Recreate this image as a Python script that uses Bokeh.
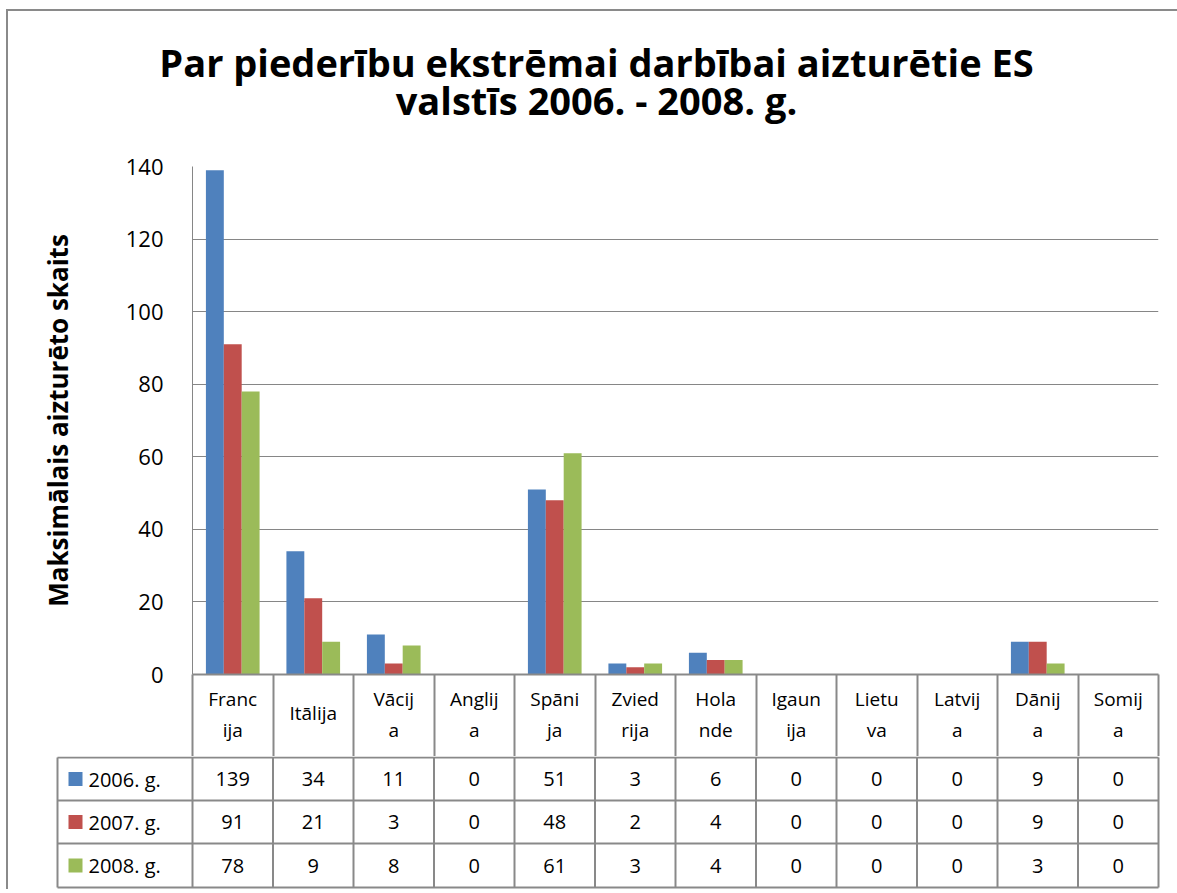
from bokeh.plotting import figure
from bokeh.models import Range1d, FixedTicker, ColumnDataSource, LinearAxis
from bokeh.layouts import column
from bokeh.embed import file_html
from bokeh.resources import INLINE
from bokeh.core.properties import value

# ---------------- data ----------------
categories = ["Francija", "Itālija", "Vācija", "Anglija", "Spānija", "Zviedrija",
              "Holande", "Igaunija", "Lietuva", "Latvija", "Dānija", "Somija"]
header_labels = ["Franc\nija", "Itālija", "Vācij\na", "Anglij\na", "Spāni\nja", "Zvied\nrija",
                 "Hola\nnde", "Igaun\nija", "Lietu\nva", "Latvij\na", "Dānij\na", "Somij\na"]
series_names = ["2006. g.", "2007. g.", "2008. g."]
v2006 = [139, 34, 11, 0, 51, 3, 6, 0, 0, 0, 9, 0]
v2007 = [91, 21, 3, 0, 48, 2, 4, 0, 0, 0, 9, 0]
v2008 = [78, 9, 8, 0, 61, 3, 4, 0, 0, 0, 3, 0]
y_ticks = [0, 20, 40, 60, 80, 100, 120, 140]
title_lines = ["Par piederību ekstrēmai darbībai aizturētie ES", "valstīs 2006. - 2008. g."]
y_label = "Maksimālais aizturēto skaits"

# ---------------- style ----------------
colors = ["#4F81BD", "#C0504D", "#9BBB59"]
FONT = "Open Sans"
GRID = "#868686"
TLINE = "#898989"
W = 1169
N = len(categories)
series = [v2006, v2007, v2008]
ML, MR, MT, HEAD = 184, 19, 25, 82
TITLE_H = 130

# ---------------- title band ----------------
tf = figure(width=W, height=TITLE_H, x_range=Range1d(0, W), y_range=Range1d(TITLE_H, 0),
            output_backend="svg", toolbar_location=None,
            min_border_left=0, min_border_right=0, min_border_top=0, min_border_bottom=0,
            x_axis_location=None, y_axis_location=None)
tf.outline_line_color = None
tf.xgrid.visible = False
tf.ygrid.visible = False
tf.text(x=[588, 588], y=[50, 88], text=title_lines, text_font=value(FONT),
        text_font_size="38px", text_font_style="bold", text_color="black",
        text_align="center", text_baseline="middle")

# ---------------- chart (with header row as category axis) ----------------
p = figure(width=W, height=MT + 508 + HEAD, x_range=Range1d(0, N), y_range=Range1d(0, 140),
           output_backend="svg", toolbar_location=None,
           min_border_left=ML, min_border_right=MR, min_border_top=MT, min_border_bottom=HEAD)
p.outline_line_color = None

bw = 1.0 / 4.5
for k, vals in enumerate(series):
    src = ColumnDataSource(dict(x=[i + 0.5 + (k - 1) * bw for i in range(N)], top=vals))
    p.vbar(x="x", top="top", width=bw, source=src, fill_color=colors[k], line_color=None)

p.yaxis.ticker = FixedTicker(ticks=y_ticks)
p.yaxis.major_tick_in = 0
p.yaxis.major_tick_out = 0
p.yaxis.minor_tick_line_color = None
p.yaxis.axis_line_color = GRID
p.yaxis.axis_line_width = 1
p.yaxis.major_label_standoff = 29
p.yaxis.major_label_text_font = FONT
p.yaxis.major_label_text_font_size = "22px"
p.yaxis.major_label_text_color = "black"
p.yaxis.axis_label = y_label
p.yaxis.axis_label_text_font = FONT
p.yaxis.axis_label_text_font_size = "26px"
p.yaxis.axis_label_text_font_style = "bold"
p.yaxis.axis_label_text_color = "black"
p.yaxis.axis_label_standoff = 47

centers = [i + 0.5 for i in range(N)]
two_line = [c for c, lab in zip(centers, header_labels) if "\n" in lab]
one_line = [c for c, lab in zip(centers, header_labels) if "\n" not in lab]
p.xaxis.ticker = FixedTicker(ticks=two_line, minor_ticks=list(range(N + 1)))
p.xaxis.major_label_overrides = {c: lab for c, lab in zip(centers, header_labels) if c in two_line}
p.xaxis.major_label_text_font = FONT
p.xaxis.major_label_text_font_size = "19px"
p.xaxis.major_label_text_color = "black"
p.xaxis.major_label_text_line_height = 1.2
p.xaxis.major_label_standoff = -71
p.xaxis.major_tick_in = 0
p.xaxis.major_tick_out = 0
p.xaxis.major_tick_line_color = None
p.xaxis.minor_tick_in = 0
p.xaxis.minor_tick_out = HEAD
p.xaxis.minor_tick_line_color = TLINE
p.xaxis.minor_tick_line_width = 2
p.xaxis.axis_line_color = TLINE
p.xaxis.axis_line_width = 2

ax2 = LinearAxis(ticker=FixedTicker(ticks=one_line, minor_ticks=[]),
                 major_label_overrides={c: lab for c, lab in zip(centers, header_labels) if c in one_line},
                 major_label_text_font=FONT, major_label_text_font_size="19px",
                 major_label_text_color="black", major_label_standoff=-46,
                 major_tick_in=0, major_tick_out=0, major_tick_line_color=None,
                 minor_tick_line_color=None, axis_line_color=None)
p.add_layout(ax2, "below")

p.ygrid.ticker = FixedTicker(ticks=y_ticks)
p.ygrid.grid_line_color = GRID
p.ygrid.grid_line_width = 1
p.xgrid.visible = False

# ---------------- data table rows ----------------
unit = (W - ML - MR) / N          # px per category
bl, br = 40, 17
fw = W - bl - br
x0 = -(ML - bl) / unit
TH = 133
t = figure(width=W, height=TH, x_range=Range1d(x0, x0 + fw / unit), y_range=Range1d(TH, 0),
           output_backend="svg", toolbar_location=None,
           min_border_left=bl, min_border_right=br, min_border_top=0, min_border_bottom=0,
           x_axis_location=None, y_axis_location=None)
t.outline_line_color = None
t.xgrid.visible = False
t.ygrid.visible = False

legend_left = -(ML - 49) / unit
row_edges = [1, 44, 87, 131]

vx = list(range(N + 1))
t.segment(x0=vx, y0=[row_edges[0]] * len(vx), x1=vx, y1=[row_edges[-1]] * len(vx),
          line_color=TLINE, line_width=2)
t.segment(x0=[legend_left], y0=[row_edges[0]], x1=[legend_left], y1=[row_edges[-1]],
          line_color=TLINE, line_width=2)
t.segment(x0=[legend_left] * len(row_edges), y0=row_edges, x1=[N] * len(row_edges), y1=row_edges,
          line_color=TLINE, line_width=2)

for k, vals in enumerate(series):
    yc = (row_edges[k] + row_edges[k + 1]) / 2
    t.text(x=centers, y=[yc] * N, text=[str(v) for v in vals],
           text_font=value(FONT), text_font_size="20px", text_align="center",
           text_baseline="middle", text_color="black")
    t.scatter(x=[-(ML - 67) / unit], y=[yc], marker="square", size=14,
              fill_color=colors[k], line_color=None)
    t.text(x=[-(ML - 80) / unit], y=[yc], text=[series_names[k]],
           text_font=value(FONT), text_font_size="20px", text_align="left",
           text_baseline="middle", text_color="black")

layout = column(column(tf), p, column(t), spacing=0,
                styles={"margin-left": "6px", "margin-top": "9px",
                        "border-left": "2px solid #8a8a8a", "border-top": "2px solid #8a8a8a"})

open("out.html", "w").write(file_html(layout, INLINE))
